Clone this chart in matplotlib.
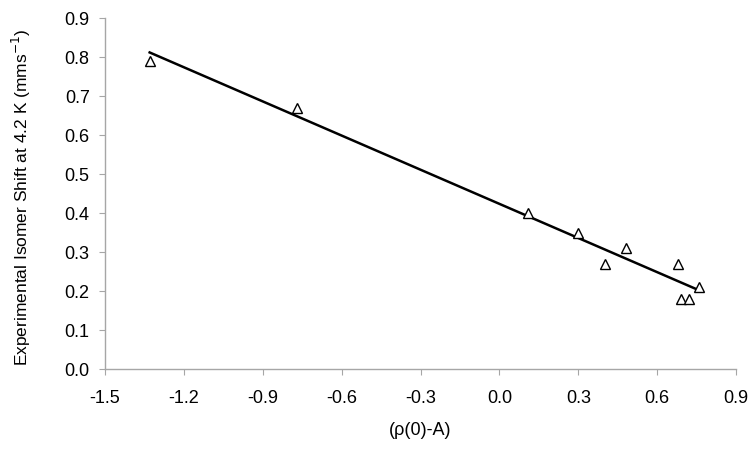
import matplotlib.pyplot as plt

plt.rcParams['font.family'] = ['Liberation Sans', 'DejaVu Sans']

# data
rho = [-1.33, -0.77, 0.11, 0.30, 0.40, 0.48, 0.68, 0.69, 0.72, 0.76]
shift = [0.79, 0.67, 0.40, 0.35, 0.27, 0.31, 0.27, 0.18, 0.18, 0.21]

# trendline ends
fit_x = [-1.33, 0.76]
fit_y = [0.812, 0.202]

xticks = [-1.5, -1.2, -0.9, -0.6, -0.3, 0.0, 0.3, 0.6, 0.9]
yticks = [0.0, 0.1, 0.2, 0.3, 0.4, 0.5, 0.6, 0.7, 0.8, 0.9]

fig = plt.figure(figsize=(7.55, 4.53), dpi=100)
ax = fig.add_axes([0.139, 0.185, 0.836, 0.775])

ax.plot(fit_x, fit_y, color='black', lw=1.8)
ax.plot(rho, shift, linestyle='none', marker='^', markersize=6.5,
        markerfacecolor='white', markeredgecolor='black', markeredgewidth=1)

ax.set_xlim(-1.5, 0.9)
ax.set_ylim(0, 0.9)
ax.set_xticks(xticks)
ax.set_yticks(yticks)
ax.set_xticklabels(['%.1f' % v for v in xticks])
ax.set_yticklabels(['%.1f' % v for v in yticks])

for s in ['top', 'right']:
    ax.spines[s].set_visible(False)
for s in ['left', 'bottom']:
    ax.spines[s].set_color('#a6a6a6')
    ax.spines[s].set_linewidth(1)
ax.tick_params(direction='out', length=4, color='#a6a6a6', labelsize=13)
ax.tick_params(axis='x', pad=11)
ax.tick_params(axis='y', pad=7)

ax.set_xlabel('(ρ(0)-A)', fontsize=13, labelpad=11)
ax.set_ylabel('Experimental Isomer Shift at 4.2 K (mms$^{-1}$)', fontsize=12.5)
ax.yaxis.set_label_coords(-0.114, 0.49)

plt.savefig('out.png', dpi=100)
